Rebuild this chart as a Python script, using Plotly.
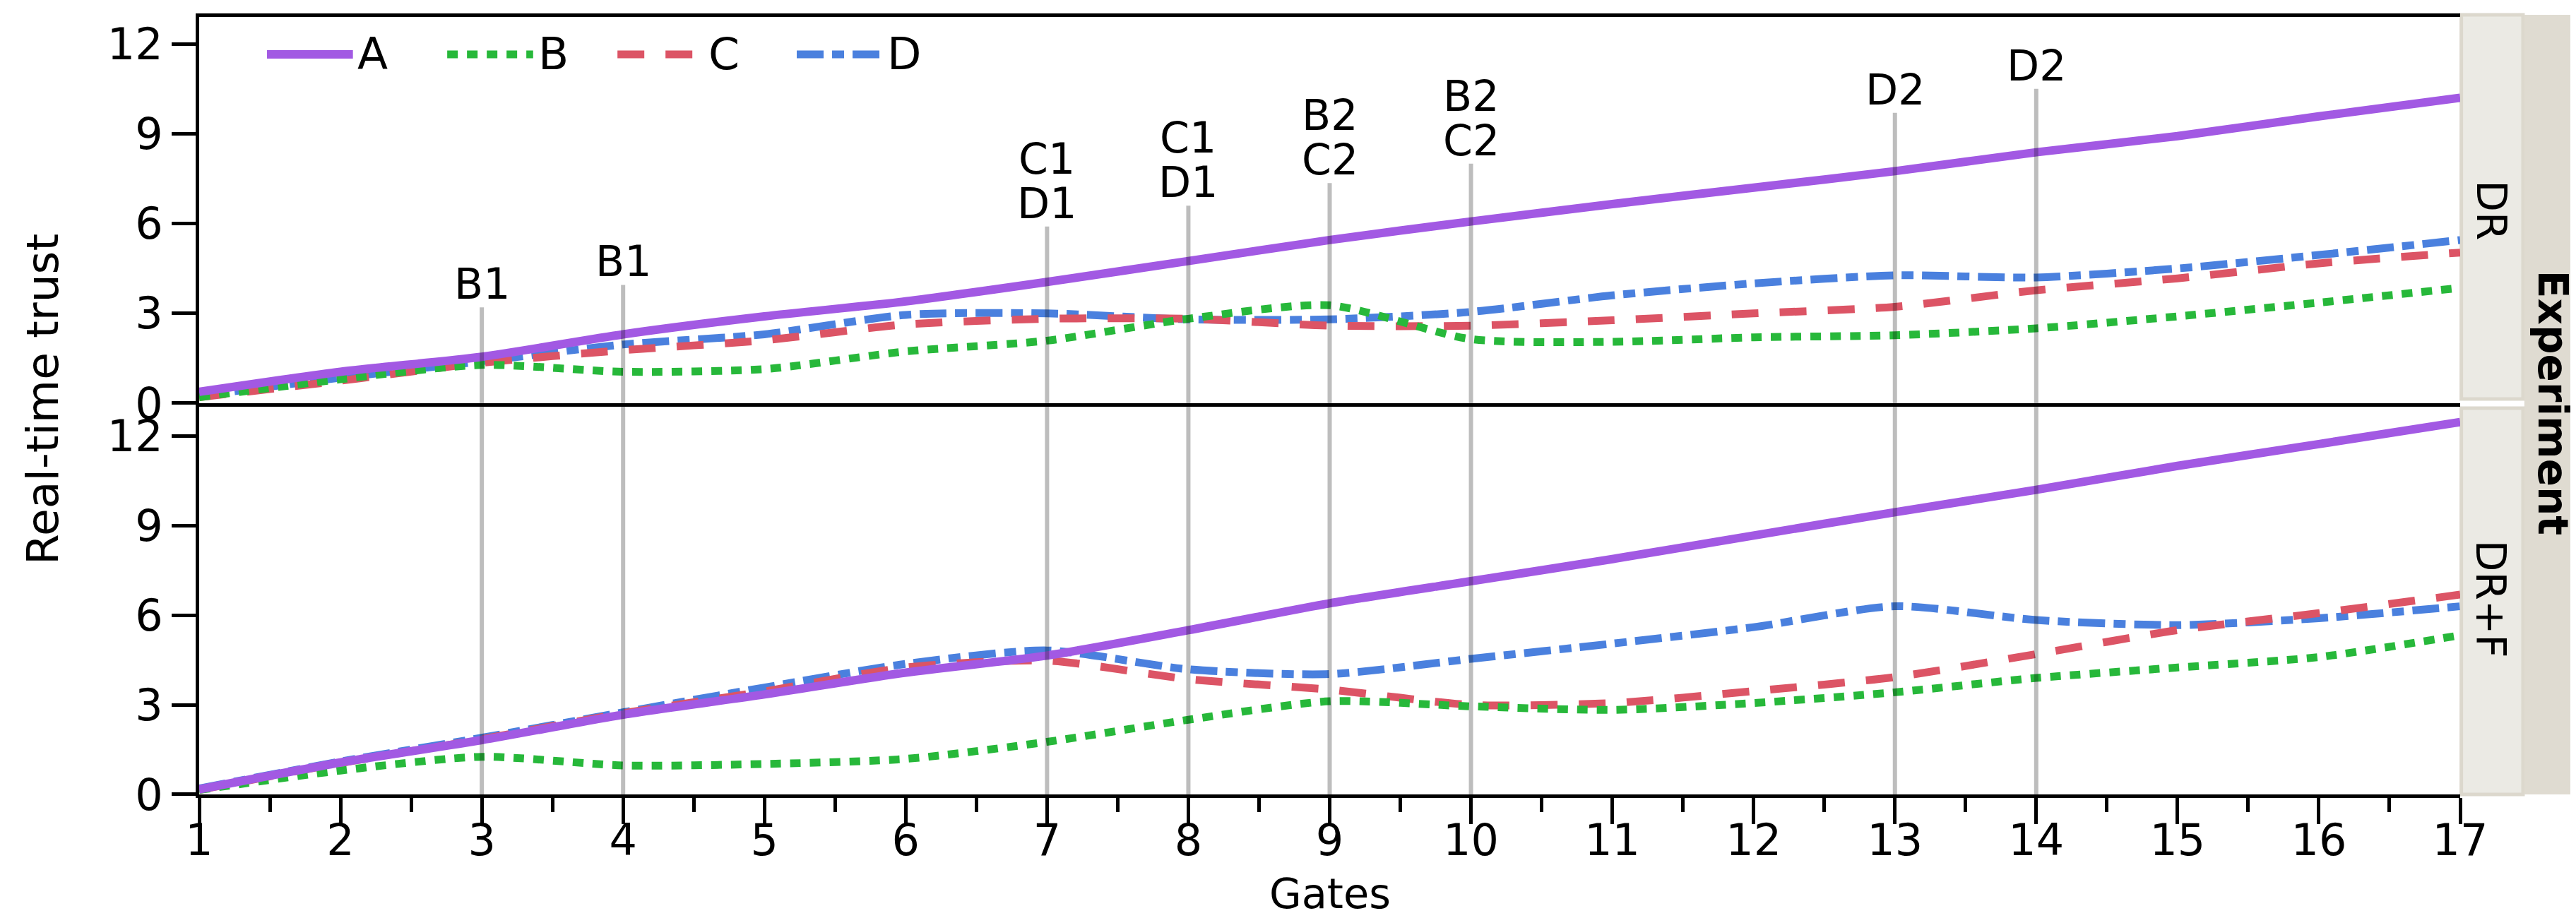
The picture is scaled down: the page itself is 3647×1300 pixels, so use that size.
import plotly.graph_objects as go

# ---------------- data ----------------
gates = list(range(1, 18))

dr_A = [0.38, 1.05, 1.55, 2.3, 2.9, 3.4, 4.05, 4.75, 5.45, 6.07, 6.65, 7.2, 7.75, 8.38, 8.92, 9.58, 10.2]
dr_B = [0.2, 0.8, 1.28, 1.05, 1.14, 1.73, 2.09, 2.82, 3.27, 2.14, 2.05, 2.2, 2.27, 2.5, 2.9, 3.36, 3.85]
dr_C = [0.2, 0.75, 1.35, 1.77, 2.1, 2.63, 2.82, 2.82, 2.59, 2.59, 2.77, 3.0, 3.22, 3.77, 4.17, 4.67, 5.03]
dr_D = [0.25, 0.85, 1.4, 1.96, 2.3, 2.95, 3.0, 2.8, 2.8, 3.05, 3.6, 4.0, 4.27, 4.2, 4.5, 4.95, 5.45]

drf_A = [0.17, 1.07, 1.82, 2.67, 3.35, 4.08, 4.65, 5.5, 6.4, 7.14, 7.88, 8.67, 9.45, 10.2, 11.0, 11.73, 12.47]
drf_B = [0.15, 0.8, 1.26, 0.97, 1.02, 1.19, 1.76, 2.5, 3.12, 2.95, 2.83, 3.06, 3.42, 3.9, 4.25, 4.6, 5.33]
drf_C = [0.15, 1.05, 1.85, 2.72, 3.45, 4.25, 4.48, 3.86, 3.51, 3.0, 3.06, 3.46, 3.93, 4.7, 5.5, 6.07, 6.69]
drf_D = [0.2, 1.1, 1.9, 2.75, 3.58, 4.37, 4.82, 4.19, 4.03, 4.54, 5.05, 5.6, 6.3, 5.84, 5.67, 5.9, 6.3]

series_names = ["A", "B", "C", "D"]
panels = ["DR", "DR+F"]
facet_title = "Experiment"

event_gates = [3, 4, 7, 8, 9, 10, 13, 14]
event_labels = [["B1"], ["B1"], ["C1", "D1"], ["C1", "D1"], ["B2", "C2"], ["B2", "C2"], ["D2"], ["D2"]]
event_tops = [3.2, 3.95, 5.9, 6.6, 7.35, 8.0, 9.7, 10.5]

y_ticks = [0, 3, 6, 9, 12]
x_ticks = gates

# ---------------- styles ----------------
FONT = "DejaVu Sans"
colors = {"A": "#A259E3", "B": "#27B83A", "C": "#DC5465", "D": "#4A80DE"}
dashes = {"A": "solid", "B": "15px,13px", "C": "38px,30px", "D": "38px,12px,17px,12px"}
widths = {"A": 12, "B": 11, "C": 11, "D": 11}

fig = go.Figure()

top_vals = {"A": dr_A, "B": dr_B, "C": dr_C, "D": dr_D}
bot_vals = {"A": drf_A, "B": drf_B, "C": drf_C, "D": drf_D}

for s in ["D", "C", "B", "A"]:
    fig.add_trace(go.Scatter(
        x=gates, y=top_vals[s], xaxis="x", yaxis="y", mode="lines", name=s,
        line=dict(color=colors[s], width=widths[s], dash=dashes[s], shape="spline", smoothing=0.7),
        showlegend=False))
    fig.add_trace(go.Scatter(
        x=gates, y=bot_vals[s], xaxis="x2", yaxis="y2", mode="lines", name=s,
        line=dict(color=colors[s], width=widths[s], dash=dashes[s], shape="spline", smoothing=0.7),
        showlegend=False))

shapes = []
annotations = []
GRAY = "rgba(0,0,0,0.26)"
for g, labs, top in zip(event_gates, event_labels, event_tops):
    shapes.append(dict(type="line", xref="x", yref="y", x0=g, x1=g, y0=0, y1=top,
                       line=dict(color=GRAY, width=6), layer="above"))
    shapes.append(dict(type="line", xref="x2", yref="y2 domain", x0=g, x1=g, y0=0, y1=1,
                       line=dict(color=GRAY, width=6), layer="above"))
    for i, lab in enumerate(reversed(labs)):
        annotations.append(dict(x=g, y=top, xref="x", yref="y", text=lab, showarrow=False,
                                xanchor="center", yanchor="bottom", yshift=-4 + 63 * i,
                                font=dict(family=FONT, size=60, color="black")))

# strips
shapes.append(dict(type="rect", xref="paper", yref="paper", x0=1.0005, x1=1.0278, y0=0.5086, y1=1.0027,
                   fillcolor="#EBEAE4", line=dict(color="#DCD8CD", width=5), layer="below"))
shapes.append(dict(type="rect", xref="paper", yref="paper", x0=1.0005, x1=1.0278, y0=0.0, y1=0.4968,
                   fillcolor="#EBEAE4", line=dict(color="#DCD8CD", width=5), layer="below"))
shapes.append(dict(type="rect", xref="paper", yref="paper", x0=1.0284, x1=1.06, y0=0.0, y1=1.0027,
                   fillcolor="#DFDBD1", line=dict(width=0), layer="below"))
annotations.append(dict(x=1.0135, y=0.7516, xref="paper", yref="paper", text=panels[0], showarrow=False,
                        textangle=90, xanchor="center", yanchor="middle",
                        font=dict(family=FONT, size=58, color="black")))
annotations.append(dict(x=1.0135, y=0.2516, xref="paper", yref="paper", text=panels[1], showarrow=False,
                        textangle=90, xanchor="center", yanchor="middle",
                        font=dict(family=FONT, size=58, color="black")))
annotations.append(dict(x=1.0410, y=0.504, xref="paper", yref="paper", text="<b>" + facet_title + "</b>",
                        showarrow=False, textangle=90, xanchor="center", yanchor="middle",
                        font=dict(family=FONT, size=58, color="black")))

# legend (custom, long keys)
leg_x = [0.030, 0.1097, 0.185, 0.2643]
key_len = 0.038
leg_y = 0.9519
for s, x0 in zip(series_names, leg_x):
    shapes.append(dict(type="line", xref="paper", yref="paper", x0=x0, x1=x0 + key_len, y0=leg_y, y1=leg_y,
                       line=dict(color=colors[s], width=widths[s], dash=dashes[s])))
    annotations.append(dict(x=x0 + 0.0395, y=leg_y, xref="paper", yref="paper", text=s, showarrow=False,
                            xanchor="left", yanchor="middle",
                            font=dict(family=FONT, size=63, color="black")))

# axis titles
annotations.append(dict(x=-0.0694, y=0.5086, xref="paper", yref="paper", text="Real-time trust",
                        showarrow=False, textangle=-90, xanchor="center", yanchor="middle",
                        font=dict(family=FONT, size=63, color="black")))
annotations.append(dict(x=0.5, y=-0.128, xref="paper", yref="paper", text="Gates",
                        showarrow=False, xanchor="center", yanchor="middle",
                        font=dict(family=FONT, size=59, color="black")))

axis_common = dict(showgrid=False, zeroline=False, linecolor="black", linewidth=5, showline=True,
                   tickcolor="black", tickfont=dict(family=FONT, size=62, color="black"))

fig.update_layout(
    width=3647, height=1300,
    margin=dict(l=274, r=172, t=16, b=183),
    paper_bgcolor="white", plot_bgcolor="white",
    showlegend=False,
    xaxis=dict(axis_common, anchor="y", domain=[0, 1], range=[1, 17], mirror=True,
               ticks="", showticklabels=False),
    yaxis=dict(axis_common, anchor="x", domain=[0.5032, 1], range=[0, 12.9], tickvals=y_ticks,
               ticks="outside", ticklen=34, tickwidth=5),
    xaxis2=dict(axis_common, anchor="y2", domain=[0, 1], range=[1, 17], tickvals=x_ticks,
                ticks="outside", ticklen=37, tickwidth=5, ticklabelstandoff=-30,
                minor=dict(ticks="outside", ticklen=20, tickwidth=5, tickcolor="black", dtick=0.5, tick0=1)),
    yaxis2=dict(axis_common, anchor="x2", domain=[0, 0.5032], range=[0, 13.1], tickvals=y_ticks,
                ticks="outside", ticklen=34, tickwidth=5),
    shapes=shapes,
    annotations=annotations,
)

fig.write_html("out.html")
